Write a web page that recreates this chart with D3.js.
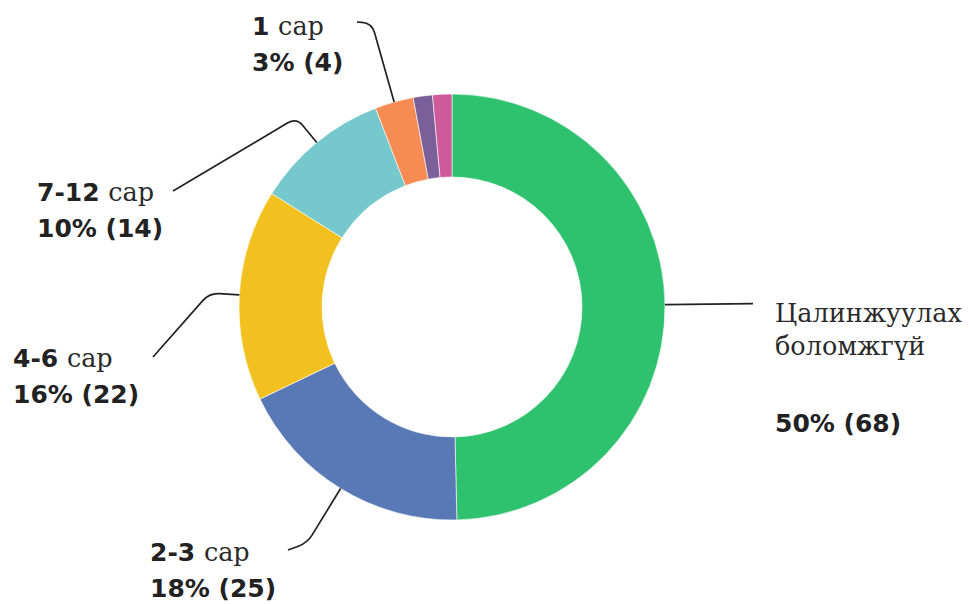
<!DOCTYPE html>
<html>
<head>
<meta charset="utf-8">
<script src="https://cdn.jsdelivr.net/npm/d3@7"></script>
<style>
  body { margin: 0; background: #fff; }
  svg { display: block; }
  .num { font-family: "DejaVu Sans", sans-serif; font-weight: bold; font-size: 25px; fill: #222; }
  .word { font-family: "DejaVu Serif", serif; font-size: 25.5px; fill: #2a2a2a; }
  .leader { fill: none; stroke: #222; stroke-width: 1.7; }
</style>
</head>
<body>
<svg width="969" height="604"></svg>
<script>
// Data (clockwise from 12 o'clock)
const categories = ['Цалинжуулах боломжгүй', '2-3 сар', '4-6 сар', '7-12 сар', '1 сар', '1 жилээс дээш', 'Бусад'];
const values = [68, 25, 22, 14, 4, 2, 2];
const colors = ['#2ec16e', '#5879b6', '#f3c11f', '#75c8cb', '#f68b53', '#7b5f98', '#cd5b9c'];
const labelled = [true, true, true, true, true, false, false];

const cx = 452, cy = 307,      // donut centre
      rOuter = 213, rInner = 130;

const total = d3.sum(values);

const svg = d3.select('svg');
const g = svg.append('g').attr('transform', `translate(${cx},${cy})`);

const pie = d3.pie().sort(null).value(d => d.value);
const arc = d3.arc().innerRadius(rInner).outerRadius(rOuter);

const data = categories.map((c, i) => ({ name: c, value: values[i], color: colors[i], show: labelled[i] }));
const arcs = pie(data);

g.selectAll('path.slice')
  .data(arcs)
  .enter()
  .append('path')
  .attr('class', 'slice')
  .attr('d', arc)
  .attr('fill', d => d.data.color)
  .attr('stroke', '#fff')
  .attr('stroke-width', 0.6);

// Leader shapes: radial run length, end point (relative to centre), label anchor (absolute)
const leaders = {
  'Цалинжуулах боломжгүй': { run: 88, end: null,         label: [775, 322] },
  '2-3 сар':               { run: 64, end: [-164, 243],  label: [150, 561] },
  '4-6 сар':               { run: 30, end: [-299, 50],   label: [13, 367] },
  '7-12 сар':              { run: 32, end: [-279, -116], label: [37, 201] },
  '1 сар':                 { run: 82, end: [-95, -285],  label: [252, 35] }
};

arcs.filter(d => d.data.show).forEach(d => {
  const L = leaders[d.data.name];
  const a = (d.startAngle + d.endAngle) / 2;
  const ux = Math.sin(a), uy = -Math.cos(a);
  const sx = ux * rOuter, sy = uy * rOuter;
  const ex = sx + ux * L.run, ey = sy + uy * L.run;   // elbow

  const p = d3.path();
  p.moveTo(sx, sy);
  if (L.end) {
    const k = 10;
    p.lineTo(ex - ux * k, ey - uy * k);
    // rounded corner toward the end point
    const dx = L.end[0] - ex, dy = L.end[1] - ey, len = Math.hypot(dx, dy);
    p.quadraticCurveTo(ex, ey, ex + dx / len * k, ey + dy / len * k);
    p.lineTo(L.end[0], L.end[1]);
  } else {
    p.lineTo(ex, ey);
  }
  g.append('path').attr('class', 'leader').attr('d', p.toString());

  const pct = Math.round(d.data.value / total * 100) + '% (' + d.data.value + ')';
  const t = svg.append('text').attr('x', L.label[0]).attr('y', L.label[1]);

  if (d.data.name.endsWith(' сар')) {
    const parts = d.data.name.split(' ');
    t.append('tspan').attr('class', 'num').text(parts[0] + ' ');
    t.append('tspan').attr('class', 'word').text(parts[1]);
    svg.append('text').attr('class', 'num')
      .attr('x', L.label[0]).attr('y', L.label[1] + 36).text(pct);
  } else {
    const words = d.data.name.split(' ');
    t.attr('class', 'word');
    words.forEach((w, i) => {
      t.append('tspan').attr('x', L.label[0]).attr('dy', i ? 33 : 0).text(w);
    });
    svg.append('text').attr('class', 'num')
      .attr('x', L.label[0]).attr('y', L.label[1] + 110).text(pct);
  }
});
</script>
</body>
</html>
